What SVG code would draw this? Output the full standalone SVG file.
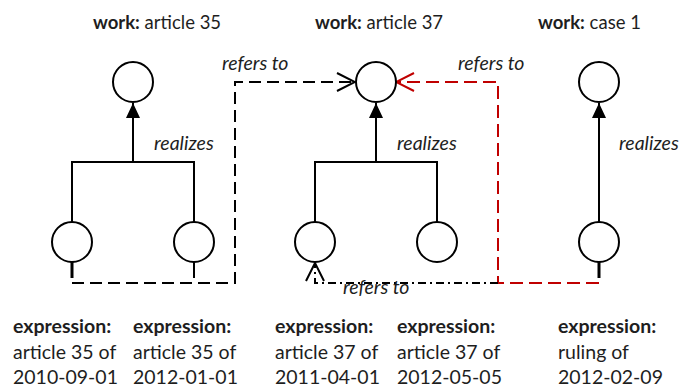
<svg xmlns="http://www.w3.org/2000/svg" width="684" height="389" viewBox="0 0 684 389">
<style>
text{font-family:Lato,"Open Sans","Liberation Sans",sans-serif;fill:#1e1e1e;font-size:19.5px}
.h{font-size:18.5px}
.b{font-weight:bold}
.i{font-style:italic}
.c{fill:#fff;stroke:#000;stroke-width:2}
.ln{fill:none;stroke:#000;stroke-width:2}
.dash{fill:none;stroke:#000;stroke-width:2;stroke-dasharray:12 6}
.red{fill:none;stroke:#c00000;stroke-width:2;stroke-dasharray:13 6}
.dd{fill:none;stroke:#000;stroke-width:2;stroke-dasharray:8 4 2 4}
.stub{stroke:#000;stroke-width:3}
</style>
<defs>
<marker id="fa" viewBox="0 0 15 14" refX="15" refY="7" markerWidth="15" markerHeight="14" markerUnits="userSpaceOnUse" orient="auto">
<path d="M0,0 L15,7 L0,14 z" fill="#000"/>
</marker>
<marker id="oa" viewBox="0 0 20 20" refX="19" refY="10" markerWidth="20" markerHeight="20" markerUnits="userSpaceOnUse" orient="auto">
<path d="M1,1 L19,10 L1,19" fill="none" stroke="#000" stroke-width="2"/>
</marker>
<marker id="oar" viewBox="0 0 20 20" refX="19" refY="10" markerWidth="20" markerHeight="20" markerUnits="userSpaceOnUse" orient="auto">
<path d="M1,1 L19,10 L1,19" fill="none" stroke="#c00000" stroke-width="2"/>
</marker>
</defs>

<g id="connectors">
<path class="ln" d="M72,222 V162 H194 V222"/>
<path class="ln" d="M133,162 V103" marker-end="url(#fa)"/>
<path class="ln" d="M315,222 V162 H437 V222"/>
<path class="ln" d="M376,162 V103" marker-end="url(#fa)"/>
<path class="ln" d="M599,222 V103" marker-end="url(#fa)"/>
<path class="stub" d="M72,262 V278"/>
<path class="ln" d="M194,262 V278"/>
<path class="stub" d="M599,262 V278"/>
<path class="dash" d="M72,283 H235 V82 H355" marker-end="url(#oa)"/>
<path class="red" d="M599,283 H498 V82 H396" marker-end="url(#oar)"/>
<path class="dd" d="M498,283 H315 V263" marker-end="url(#oa)"/>
<text class="i" x="222" y="70">refers to</text>
<text class="i" x="458" y="70">refers to</text>
<text class="i" x="343" y="294">refers to</text>
<text class="i" x="154" y="150">realizes</text>
<text class="i" x="397" y="150">realizes</text>
<text class="i" x="619" y="150">realizes</text>
</g>

<g id="work-article-35">
<circle class="c" cx="133" cy="82" r="20"/>
<text class="h" x="93" y="29"><tspan class="b">work:</tspan> article 35</text>
</g>
<g id="work-article-37">
<circle class="c" cx="376" cy="82" r="20"/>
<text class="h" x="315" y="29"><tspan class="b">work:</tspan> article 37</text>
</g>
<g id="work-case-1">
<circle class="c" cx="599" cy="82" r="20"/>
<text class="h" x="538" y="29"><tspan class="b">work:</tspan> case 1</text>
</g>

<g id="expr-a35-2010">
<circle class="c" cx="72" cy="242" r="20"/>
<text class="b" x="13" y="333">expression:</text>
<text x="13" y="359">article 35 of</text>
<text x="13" y="384">2010-09-01</text>
</g>
<g id="expr-a35-2012">
<circle class="c" cx="194" cy="242" r="20"/>
<text class="b" x="133" y="333">expression:</text>
<text x="133" y="359">article 35 of</text>
<text x="133" y="384">2012-01-01</text>
</g>
<g id="expr-a37-2011">
<circle class="c" cx="315" cy="242" r="20"/>
<text class="b" x="275" y="333">expression:</text>
<text x="275" y="359">article 37 of</text>
<text x="275" y="384">2011-04-01</text>
</g>
<g id="expr-a37-2012">
<circle class="c" cx="437" cy="242" r="20"/>
<text class="b" x="397" y="333">expression:</text>
<text x="397" y="359">article 37 of</text>
<text x="397" y="384">2012-05-05</text>
</g>
<g id="expr-case1">
<circle class="c" cx="599" cy="242" r="20"/>
<text class="b" x="558" y="333">expression:</text>
<text x="558" y="359">ruling of</text>
<text x="558" y="384">2012-02-09</text>
</g>
</svg>
